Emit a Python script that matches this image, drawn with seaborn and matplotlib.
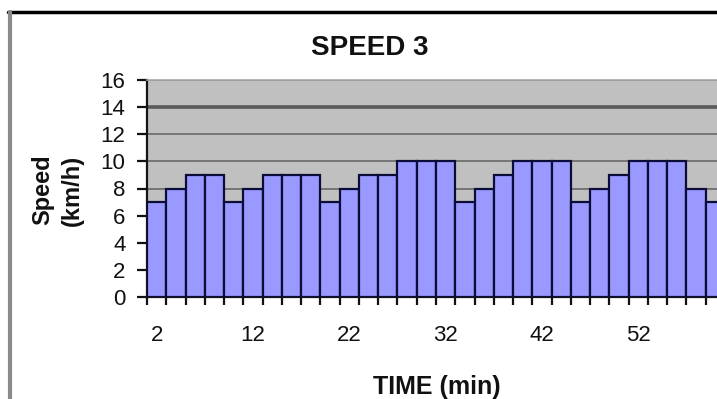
import matplotlib
matplotlib.use("Agg")
import matplotlib.pyplot as plt
import seaborn as sns
import pandas as pd
from matplotlib.lines import Line2D

# Speed per two-minute interval over the session
minutes = list(range(2, 61, 2))
speed = [7, 8, 9, 9, 7, 8, 9, 9, 9, 7,
         8, 9, 9, 10, 10, 10, 7, 8, 9, 10,
         10, 10, 7, 8, 9, 10, 10, 10, 8, 7]
y_ticks = list(range(0, 17, 2))
x_labelled = [2, 12, 22, 32, 42, 52]

sns.set_theme(style="ticks")
plt.rcParams["font.family"] = ["Liberation Sans", "DejaVu Sans"]

W, H = 717, 399
fig = plt.figure(figsize=(W / 100, H / 100), dpi=100)
fig.patch.set_facecolor("white")
ax = fig.add_axes([147 / W, (H - 297) / H, 578 / W, 217 / H])
ax.set_facecolor("#c0c0c0")

df = pd.DataFrame({"TIME": minutes, "Speed": speed})
sns.barplot(data=df, x="TIME", y="Speed", order=minutes, color="#9999ff",
            saturation=1, width=1.0, edgecolor="#0c0c38", linewidth=1.6,
            ax=ax, zorder=3)

n = len(minutes)
ax.set_xlim(-0.5, n - 0.5)
ax.set_ylim(0, 16)

# ticks between categories, labels every fifth bar
ax.set_xticks([i - 0.5 for i in range(n + 1)])
ax.set_xticklabels([])
ax.set_xticks([minutes.index(m) for m in x_labelled], minor=True)
ax.set_xticklabels([str(m) for m in x_labelled], minor=True)
ax.tick_params(axis="x", which="major", direction="out", length=6,
               width=1.6, color="#111111", bottom=True)
ax.tick_params(axis="x", which="minor", length=0, pad=20, labelsize=16,
               labelcolor="#111111")

ax.set_yticks(y_ticks)
ax.set_yticklabels([str(v) for v in y_ticks])
ax.tick_params(axis="y", direction="out", length=7.5, width=1.6,
               color="#111111", pad=8, labelsize=16, labelcolor="#111111",
               left=True)

ax.set_xlabel("")
ax.set_ylabel("")

ax.set_axisbelow(True)
ax.yaxis.grid(True, color="#707070", linewidth=1.3)
gl = ax.get_ygridlines()
gl[y_ticks.index(14)].set_linewidth(2.6)
gl[y_ticks.index(14)].set_color("#5a5a5a")

for side in ("left", "bottom"):
    ax.spines[side].set_color("#151515")
    ax.spines[side].set_linewidth(1.6)
ax.spines["top"].set_visible(True)
ax.spines["top"].set_color("#a8a8a8")
ax.spines["top"].set_linewidth(1.2)
ax.spines["right"].set_visible(False)

fig.text(370 / W, (H - 55) / H, "SPEED 3", ha="center", va="baseline",
         fontsize=20, fontweight="bold", color="#111111")
fig.text(437 / W, (H - 394) / H, "TIME (min)", ha="center", va="baseline",
         fontsize=18, fontweight="bold", color="#111111")
fig.text(43 / W, (H - 190) / H, "Speed", rotation=90, ha="center",
         va="center", fontsize=17, fontweight="bold", color="#111111")
fig.text(72 / W, (H - 190) / H, "(km/h)", rotation=90, ha="center",
         va="center", fontsize=17, fontweight="bold", color="#111111")

# chart frame
fig.add_artist(Line2D([8 / W, 1], [(H - 12) / H] * 2, color="black",
                      linewidth=2.5))
fig.add_artist(Line2D([10 / W] * 2, [0, (H - 12) / H], color="#8a8a8a",
                      linewidth=3))

fig.savefig("out.png", dpi=100)
